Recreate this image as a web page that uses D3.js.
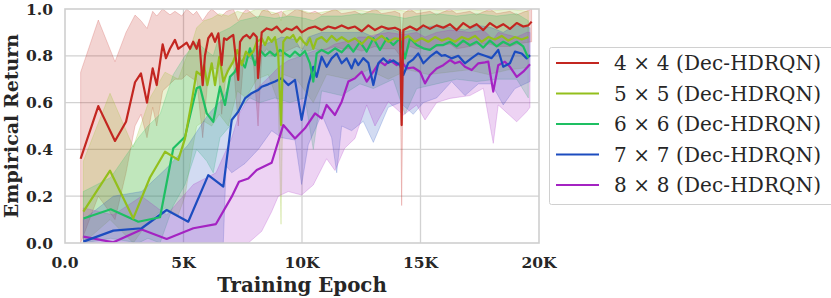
<!DOCTYPE html>
<html>
<head>
<meta charset="utf-8">
<script src="https://d3js.org/d3.v7.min.js"></script>
<style>
  body { margin: 0; background: #fff; }
  text { fill: #262626; }
</style>
</head>
<body>
<div id="graph-area"></div>
<script>

// ---- data: [epoch, mean return] ----
const series4 = [
  [660,0.36],[1405,0.585],[2110,0.436],[2575,0.518],[2955,0.687],[3205,0.725],[3460,0.60],
  [3700,0.746],[3870,0.675],[4120,0.849],[4260,0.79],[4430,0.83],[4640,0.868],[4780,0.83],
  [4925,0.84],[5135,0.856],[5275,0.83],[5410,0.86],[5555,0.83],[5665,0.868],[5810,0.675],
  [5905,0.80],[6045,0.875],[6190,0.896],[6330,0.86],[6470,0.896],[6610,0.76],[6710,0.875],
  [6820,0.868],[6960,0.88],[7100,0.889],[7310,0.697],[7385,0.86],[7520,0.88],[7665,0.889],
  [7805,0.875],[7945,0.896],[8090,0.88],[8145,0.705],[8300,0.90],[8510,0.917],[8720,0.91],
  [8930,0.925],[9140,0.90],[9355,0.917],[9565,0.91],[9775,0.925],[9985,0.90],[10265,0.917],
  [10550,0.925],[10830,0.91],[11110,0.925],[11390,0.917],[11675,0.93],[11955,0.917],
  [12235,0.925],[12520,0.905],[12800,0.93],[13080,0.91],[13360,0.925],[13640,0.915],
  [13920,0.92],[14135,0.91],[14205,0.504],[14275,0.91],[14555,0.925],[14840,0.91],
  [15120,0.93],[15400,0.915],[15680,0.93],[15960,0.92],[16245,0.935],[16525,0.91],
  [16805,0.94],[17085,0.92],[17370,0.935],[17650,0.91],[17930,0.94],[18215,0.92],
  [18490,0.935],[18775,0.915],[19060,0.94],[19335,0.925],[19550,0.93],[19690,0.946]
];
const series5 = [
  [775,0.134],[1900,0.309],[2880,0.105],[3585,0.28],[4220,0.39],[4780,0.355],[5065,0.447],
  [5345,0.604],[5555,0.732],[5725,0.718],[5865,0.76],[6005,0.675],[6190,0.768],[6330,0.675],
  [6510,0.796],[6680,0.69],[6890,0.739],[7100,0.775],[7270,0.825],[7455,0.76],[7635,0.818],
  [7775,0.80],[7945,0.818],[8090,0.86],[8225,0.868],[8300,0.875],[8440,0.846],[8575,0.88],
  [8720,0.86],[8860,0.88],[9000,0.80],[9115,0.504],[9210,0.86],[9355,0.88],[9490,0.875],
  [9630,0.889],[9775,0.86],[9915,0.88],[10055,0.86],[10195,0.846],[10335,0.875],[10475,0.83],
  [10620,0.87],[10830,0.88],[11040,0.86],[11250,0.885],[11465,0.865],[11675,0.88],
  [11955,0.86],[12235,0.875],[12520,0.85],[12800,0.88],[13080,0.865],[13360,0.885],
  [13640,0.86],[13920,0.875],[14205,0.87],[14485,0.885],[14765,0.86],[15050,0.875],
  [15330,0.86],[15610,0.88],[15895,0.865],[16170,0.875],[16455,0.86],[16735,0.88],
  [17015,0.87],[17300,0.885],[17580,0.86],[17860,0.88],[18140,0.87],[18425,0.885],
  [18705,0.865],[18985,0.88],[19270,0.87],[19550,0.88]
];
const series6 = [
  [775,0.105],[1930,0.144],[3095,0.091],[4010,0.11],[4570,0.405],[5065,0.454],[5360,0.58],
  [5555,0.661],[5695,0.668],[5980,0.554],[6255,0.518],[6540,0.668],[6750,0.59],[6960,0.71],
  [7170,0.732],[7385,0.782],[7595,0.75],[7805,0.832],[8015,0.76],[8225,0.825],[8440,0.80],
  [8650,0.818],[8860,0.80],[9070,0.825],[9280,0.81],[9490,0.796],[9705,0.818],[9915,0.80],
  [10125,0.82],[10335,0.768],[10475,0.69],[10620,0.81],[10830,0.825],[11110,0.81],
  [11390,0.832],[11675,0.815],[11955,0.846],[12165,0.818],[12445,0.86],[12730,0.818],
  [13010,0.875],[13290,0.825],[13575,0.875],[13850,0.846],[14135,0.875],[14345,0.789],
  [14555,0.875],[14840,0.846],[15120,0.832],[15400,0.825],[15680,0.846],[15960,0.846],
  [16245,0.86],[16525,0.84],[16805,0.865],[17085,0.845],[17370,0.86],[17650,0.835],
  [17930,0.865],[18215,0.84],[18490,0.86],[18775,0.845],[19060,0.86],[19335,0.84],[19550,0.79]
];
const series7 = [
  [775,0.006],[2040,0.053],[3235,0.063],[4290,0.141],[5200,0.091],[6045,0.29],[6680,0.241],
  [7035,0.526],[7310,0.561],[7595,0.618],[7875,0.64],[8155,0.654],[8300,0.668],[8575,0.678],
  [8860,0.69],[9140,0.704],[9420,0.675],[9705,0.697],[9985,0.526],[10265,0.675],[10475,0.753],
  [10620,0.71],[10830,0.796],[11040,0.753],[11250,0.789],[11465,0.81],[11675,0.768],
  [11885,0.789],[12095,0.746],[12235,0.785],[12375,0.76],[12585,0.79],[12800,0.77],
  [13010,0.675],[13220,0.768],[13430,0.789],[13640,0.77],[13850,0.78],[14135,0.76],
  [14275,0.718],[14485,0.77],[14695,0.785],[14905,0.81],[15120,0.768],[15400,0.796],
  [15680,0.818],[15895,0.80],[16030,0.803],[16315,0.789],[16595,0.80],[16875,0.768],
  [17160,0.79],[17440,0.81],[17720,0.80],[18000,0.79],[18280,0.825],[18490,0.753],
  [18775,0.768],[18985,0.818],[19270,0.81],[19480,0.789],[19620,0.803]
];
const series8 = [
  [775,0.027],[2040,0.003],[3235,0.058],[4290,0.017],[5415,0.063],[6370,0.081],[7035,0.198],
  [7340,0.262],[7735,0.276],[8090,0.312],[8720,0.343],[9210,0.504],[9705,0.447],[10125,0.49],
  [10550,0.554],[10830,0.533],[11040,0.59],[11390,0.547],[11675,0.604],[11955,0.69],
  [12235,0.704],[12520,0.732],[12730,0.69],[13010,0.732],[13290,0.775],[13500,0.76],
  [13715,0.782],[13995,0.76],[14205,0.775],[14415,0.746],[14695,0.75],[14980,0.732],
  [15190,0.682],[15400,0.718],[15680,0.746],[15960,0.76],[16245,0.782],[16455,0.768],
  [16665,0.775],[16875,0.753],[17160,0.739],[17440,0.768],[17720,0.772],[17860,0.775],
  [18070,0.647],[18280,0.76],[18560,0.775],[18775,0.753],[19060,0.71],[19335,0.732],[19620,0.764]
];

// ---- spread bands: [epoch, low, high] ----
const band4 = [
  [660,0.0,0.73],[1405,0.2,0.953],[2110,0.1,0.775],[2575,0.3,0.9],[2955,0.5,0.974],
  [3205,0.55,0.95],[3460,0.45,0.917],[3700,0.58,0.99],[3870,0.5,0.97],[4120,0.65,1.0],
  [4430,0.68,0.975],[4640,0.7,0.99],[4925,0.7,0.97],[5135,0.72,1.0],[5410,0.7,0.975],
  [5555,0.7,0.99],[5810,0.45,0.95],[6045,0.72,0.985],[6190,0.75,1.0],[6470,0.74,0.975],
  [6610,0.55,0.97],[6820,0.74,0.99],[7100,0.78,1.0],[7310,0.5,0.95],[7520,0.76,0.985],
  [7665,0.8,1.0],[7945,0.78,0.975],[8145,0.5,0.96],[8300,0.8,0.99],[8510,0.83,1.0],
  [8720,0.8,0.975],[9140,0.8,0.99],[9355,0.82,0.97],[9775,0.84,1.0],[10265,0.82,0.98],
  [10550,0.83,0.99],[10830,0.82,0.975],[11390,0.84,1.0],[11675,0.83,0.98],[12235,0.83,0.99],
  [12520,0.82,0.975],[13080,0.84,1.0],[13360,0.83,0.98],[13920,0.83,0.99],[14135,0.8,0.98],
  [14205,0.16,0.85],[14275,0.8,0.98],[14555,0.84,1.0],[14840,0.83,0.98],[15400,0.83,0.99],
  [15680,0.84,0.975],[16245,0.85,1.0],[16525,0.83,0.98],[17085,0.84,0.99],[17370,0.85,0.975],
  [17930,0.85,1.0],[18215,0.84,0.98],[18775,0.84,0.99],[19060,0.85,0.975],[19690,0.86,1.0]
];
const band5 = [
  [775,0.0,0.35],[1900,0.1,0.64],[2880,0.0,0.41],[3585,0.1,0.62],[4220,0.15,0.73],
  [4780,0.12,0.7],[5065,0.2,0.78],[5345,0.38,0.85],[5555,0.5,0.92],[5865,0.52,0.95],
  [6190,0.5,0.96],[6510,0.55,0.98],[6890,0.5,0.97],[7270,0.65,0.99],[7635,0.62,0.98],
  [8090,0.7,1.0],[8575,0.72,0.99],[9000,0.6,0.98],[9115,0.08,0.95],[9210,0.72,0.99],
  [9775,0.7,1.0],[10475,0.6,0.98],[11040,0.72,0.99],[11955,0.7,1.0],[12800,0.74,0.99],
  [13640,0.7,1.0],[14485,0.74,0.99],[15330,0.72,1.0],[16170,0.73,0.99],[17015,0.74,1.0],
  [17860,0.72,0.99],[18705,0.74,1.0],[19550,0.75,0.99]
];
const band6 = [
  [775,0.0,0.22],[1930,0.02,0.28],[3095,0.0,0.45],[3500,0.02,0.5],[4010,0.0,0.55],
  [4570,0.16,0.72],[5065,0.25,0.8],[5555,0.4,0.86],[5980,0.35,0.82],[6255,0.3,0.8],
  [6540,0.45,0.9],[6960,0.5,0.92],[7385,0.58,0.95],[7805,0.62,0.96],[8225,0.6,0.97],
  [8860,0.62,0.96],[9490,0.6,0.97],[10125,0.62,0.96],[10475,0.4,0.95],[10830,0.65,0.97],
  [11675,0.63,0.97],[12445,0.68,0.98],[13010,0.66,0.98],[13850,0.7,0.97],[14345,0.55,0.96],
  [14840,0.66,0.97],[15680,0.68,0.98],[16525,0.7,0.97],[17370,0.69,0.98],[18215,0.7,0.97],
  [19060,0.7,0.98],[19550,0.62,0.95]
];
const band7 = [
  [775,0.0,0.1],[2040,0.0,0.2],[3235,0.0,0.22],[4290,0.0,0.32],[5200,0.0,0.42],
  [6045,0.0,0.55],[6680,0.0,0.62],[6800,0.33,0.65],[7035,0.3,0.72],[7595,0.34,0.8],
  [8155,0.4,0.84],[8720,0.48,0.86],[9140,0.45,0.88],[9705,0.44,0.87],[9985,0.25,0.82],
  [10265,0.42,0.88],[10830,0.55,0.9],[11250,0.45,0.9],[11465,0.3,0.9],[11675,0.5,0.9],
  [12095,0.48,0.9],[12585,0.52,0.9],[13010,0.43,0.88],[13640,0.58,0.92],[14135,0.6,0.9],
  [14695,0.55,0.91],[15120,0.6,0.92],[15680,0.62,0.93],[16315,0.69,0.92],[16875,0.63,0.91],
  [17440,0.68,0.93],[18000,0.68,0.92],[18490,0.59,0.9],[18985,0.66,0.93],[19620,0.69,0.92]
];
const band8 = [
  [775,0.0,0.15],[2040,0.0,0.12],[3235,0.0,0.2],[4290,0.0,0.12],[5415,0.0,0.25],
  [6370,0.0,0.3],[7035,0.0,0.45],[7340,0.0,0.55],[7735,0.0,0.62],[8300,0.05,0.68],
  [8720,0.134,0.72],[9000,0.2,0.75],[9420,0.22,0.78],[9985,0.205,0.8],[10475,0.248,0.82],
  [11040,0.36,0.83],[11390,0.31,0.85],[11800,0.405,0.86],[12235,0.447,0.87],[12375,0.49,0.88],
  [12730,0.59,0.88],[13080,0.5,0.89],[13640,0.604,0.9],[14275,0.547,0.89],[14840,0.59,0.9],
  [15190,0.526,0.88],[15680,0.6,0.9],[16245,0.618,0.91],[17085,0.63,0.9],[17650,0.661,0.91],
  [18070,0.426,0.87],[18280,0.59,0.9],[19060,0.518,0.88],[19480,0.561,0.9],[19620,0.58,0.9]
];

const labels = ["4 \u00d7 4 (Dec-HDRQN)", "5 \u00d7 5 (Dec-HDRQN)", "6 \u00d7 6 (Dec-HDRQN)",
                "7 \u00d7 7 (Dec-HDRQN)", "8 \u00d7 8 (Dec-HDRQN)"];
const colors = ["#c32620", "#93bf1c", "#1ebf62", "#1c4cbf", "#a423c2"];
const xTicks = [0, 5000, 10000, 15000, 20000];
const xTickLabels = ["0.0", "5K", "10K", "15K", "20K"];
const yTicks = [0, 0.2, 0.4, 0.6, 0.8, 1.0];

const means = [series4, series5, series6, series7, series8];
const bands = [band4, band5, band6, band7, band8];

const w = 831;
const h = 298;
const padL = 65, padR = 539, padT = 9, padB = 243;

const xScale = d3.scaleLinear().domain([0, 20000]).range([padL, padR]);
const yScale = d3.scaleLinear().domain([0, 1]).range([padB, padT]);

const svg = d3.select("#graph-area").append("svg")
  .attr("width", w)
  .attr("height", h)
  .style("display", "block");

svg.append("defs").append("clipPath").attr("id", "plotclip")
  .append("rect")
  .attr("x", padL).attr("y", padT)
  .attr("width", padR - padL).attr("height", padB - padT);

// grid
const grid = svg.append("g");
grid.selectAll(".gx").data(xTicks.slice(1, -1)).enter().append("line")
  .attr("x1", d => xScale(d)).attr("x2", d => xScale(d))
  .attr("y1", padT).attr("y2", padB)
  .attr("stroke", "#d2d2d2").attr("stroke-width", 1.3);
grid.selectAll(".gy").data(yTicks.slice(1, -1)).enter().append("line")
  .attr("x1", padL).attr("x2", padR)
  .attr("y1", d => yScale(d)).attr("y2", d => yScale(d))
  .attr("stroke", "#d2d2d2").attr("stroke-width", 1.3);

const plot = svg.append("g").attr("clip-path", "url(#plotclip)");

const area = d3.area()
  .x(d => xScale(d[0]))
  .y0(d => yScale(d[1]))
  .y1(d => yScale(d[2]));

bands.forEach(function(b, i) {
  plot.append("path")
    .datum(b)
    .attr("d", area)
    .attr("fill", colors[i])
    .attr("fill-opacity", 0.2)
    .attr("stroke", colors[i])
    .attr("stroke-opacity", 0.3)
    .attr("stroke-width", 0.7);
});

const line = d3.line()
  .x(d => xScale(d[0]))
  .y(d => yScale(d[1]));

for (let i = means.length - 1; i >= 0; i--) {
  plot.append("path")
    .datum(means[i])
    .attr("d", line)
    .attr("fill", "none")
    .attr("stroke", colors[i])
    .attr("stroke-width", 2.2)
    .attr("stroke-linejoin", "round");
}

// frame
svg.append("rect")
  .attr("x", padL).attr("y", padT)
  .attr("width", padR - padL).attr("height", padB - padT)
  .attr("fill", "none").attr("stroke", "#cfcfcf").attr("stroke-width", 1.6);

// tick labels
svg.selectAll(".xt").data(xTicks).enter().append("text")
  .attr("x", d => xScale(d))
  .attr("y", 268)
  .attr("text-anchor", "middle")
  .style("font-family", "DejaVu Serif")
  .style("font-weight", "bold")
  .style("font-size", "15.5px")
  .text((d, i) => xTickLabels[i]);

svg.selectAll(".yt").data(yTicks).enter().append("text")
  .attr("x", 53)
  .attr("y", d => yScale(d) + 5.5)
  .attr("text-anchor", "end")
  .style("font-family", "DejaVu Serif")
  .style("font-weight", "bold")
  .style("font-size", "15.5px")
  .text(d => d.toFixed(1));

// axis titles
svg.append("text")
  .attr("x", (padL + padR) / 2)
  .attr("y", 292)
  .attr("text-anchor", "middle")
  .style("font-family", "DejaVu Serif")
  .style("font-weight", "bold")
  .style("font-size", "19.8px")
  .text("Training Epoch");

svg.append("text")
  .attr("transform", "translate(18," + ((padT + padB) / 2) + ") rotate(-90)")
  .attr("text-anchor", "middle")
  .style("font-family", "DejaVu Serif")
  .style("font-weight", "bold")
  .style("font-size", "19px")
  .text("Empirical Return");

// legend
const legend = svg.append("g");
legend.append("rect")
  .attr("x", 549.5).attr("y", 47.5)
  .attr("width", 290).attr("height", 157)
  .attr("rx", 2)
  .attr("fill", "#fff").attr("stroke", "#d0d0d0").attr("stroke-width", 1);

labels.forEach(function(lab, i) {
  const ly = 63 + i * 30.5;
  legend.append("line")
    .attr("x1", 556).attr("x2", 599)
    .attr("y1", ly).attr("y2", ly)
    .attr("stroke", colors[i]).attr("stroke-width", 2.2);
  legend.append("text")
    .attr("x", 614)
    .attr("y", ly + 7)
    .attr("textLength", 207)
    .attr("lengthAdjust", "spacing")
    .style("font-family", "DejaVu Serif")
    .style("font-size", "20px")
    .text(lab);
});

</script>
</body>
</html>
